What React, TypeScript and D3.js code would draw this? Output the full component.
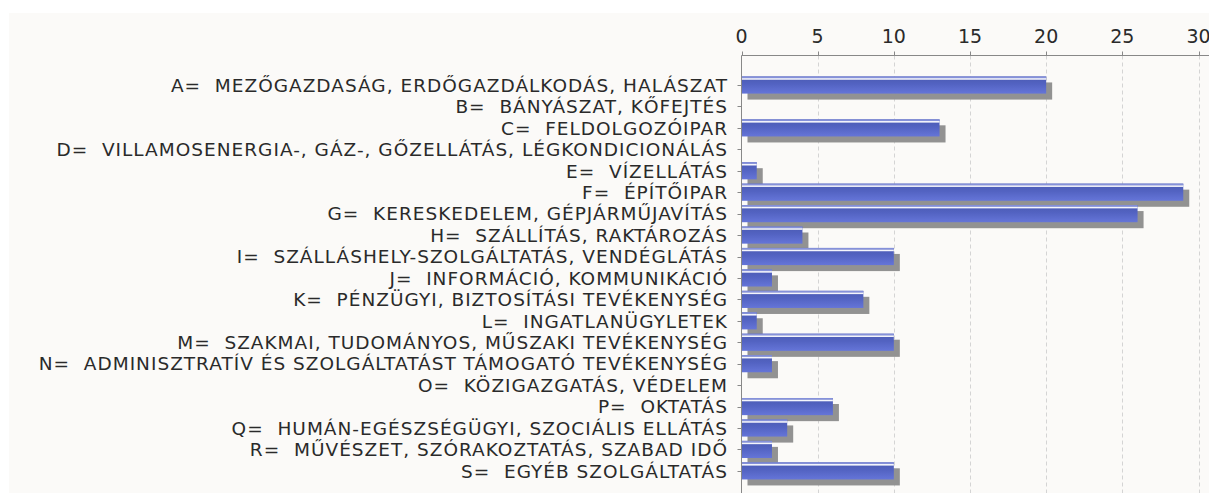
import React from 'react';
import * as d3 from 'd3';

const categories = [
  'A=  MEZŐGAZDASÁG, ERDŐGAZDÁLKODÁS, HALÁSZAT',
  'B=  BÁNYÁSZAT, KŐFEJTÉS',
  'C=  FELDOLGOZÓIPAR',
  'D=  VILLAMOSENERGIA-, GÁZ-, GŐZELLÁTÁS, LÉGKONDICIONÁLÁS',
  'E=  VÍZELLÁTÁS',
  'F=  ÉPÍTŐIPAR',
  'G=  KERESKEDELEM, GÉPJÁRMŰJAVÍTÁS',
  'H=  SZÁLLÍTÁS, RAKTÁROZÁS',
  'I=  SZÁLLÁSHELY-SZOLGÁLTATÁS, VENDÉGLÁTÁS',
  'J=  INFORMÁCIÓ, KOMMUNIKÁCIÓ',
  'K=  PÉNZÜGYI, BIZTOSÍTÁSI TEVÉKENYSÉG',
  'L=  INGATLANÜGYLETEK',
  'M=  SZAKMAI, TUDOMÁNYOS, MŰSZAKI TEVÉKENYSÉG',
  'N=  ADMINISZTRATÍV ÉS SZOLGÁLTATÁST TÁMOGATÓ TEVÉKENYSÉG',
  'O=  KÖZIGAZGATÁS, VÉDELEM',
  'P=  OKTATÁS',
  'Q=  HUMÁN-EGÉSZSÉGÜGYI, SZOCIÁLIS ELLÁTÁS',
  'R=  MŰVÉSZET, SZÓRAKOZTATÁS, SZABAD IDŐ',
  'S=  EGYÉB SZOLGÁLTATÁS',
];

const values = [20, 0, 13, 0, 1, 29, 26, 4, 10, 2, 8, 1, 10, 2, 0, 6, 3, 2, 10];

const xTicks = [0, 5, 10, 15, 20, 25, 30];

export default function App() {
  const W = 1209;
  const H = 493;
  const axisY = 55.5;
  const x = d3.scaleLinear().domain([0, 30]).range([741.5, 1198.5]);
  const y = d3
    .scaleBand<string>()
    .domain(categories)
    .range([74.3, 481.6])
    .paddingInner(0.2)
    .paddingOuter(0.1);
  const bw = y.bandwidth();
  const font = "'DejaVu Sans', sans-serif";

  return (
    <svg
      width={W}
      height={H}
      style={{ position: 'absolute', left: 0, top: 0, display: 'block' }}
    >
      <defs>
        <linearGradient id="barGrad" x1="0" y1="0" x2="0" y2="1">
          <stop offset="0" stopColor="#4a5ab2" />
          <stop offset="0.45" stopColor="#5363c2" />
          <stop offset="1" stopColor="#6575d8" />
        </linearGradient>
        <filter id="blur" x="-5%" y="-30%" width="110%" height="160%">
          <feGaussianBlur stdDeviation="0.6" />
        </filter>
      </defs>
      <rect x={0} y={0} width={W} height={H} fill="#ffffff" />
      <rect x={9} y={13} width={W - 9} height={H - 13} fill="#fbfaf8" />

      {/* gridlines */}
      {xTicks.slice(1).map((t) => (
        <line
          key={'g' + t}
          x1={Math.round(x(t)) + 0.5}
          x2={Math.round(x(t)) + 0.5}
          y1={axisY}
          y2={H}
          stroke="#d4d4d4"
          strokeDasharray="4,3"
        />
      ))}

      {/* bars */}
      {categories.map((c, i) => {
        const v = values[i];
        if (v <= 0) return null;
        const y0 = y(c)!;
        const x0 = x(0);
        const w = x(v) - x0;
        return (
          <g key={'b' + i}>
            <rect
              x={x0 + 6}
              y={y0 + 6}
              width={w}
              height={bw}
              fill="#929292"
              filter="url(#blur)"
            />
            <rect x={x0} y={y0} width={w} height={bw} fill="url(#barGrad)" />
            <rect x={x0} y={y0} width={w} height={1.7} fill="#8591da" />
            <rect x={x0} y={y0 + 1.7} width={w} height={1.6} fill="#f4f5fc" />
          </g>
        );
      })}

      {/* top axis */}
      <line x1={741.5} x2={W} y1={axisY} y2={axisY} stroke="#888888" />
      {xTicks.map((t) => (
        <g key={'t' + t}>
          <line
            x1={Math.round(x(t)) + 0.5}
            x2={Math.round(x(t)) + 0.5}
            y1={axisY - 4}
            y2={axisY}
            stroke="#888888"
          />
          <text
            x={x(t)}
            y={42.5}
            textAnchor="middle"
            fontFamily={font}
            fontSize={19}
            fill="#2a2a2a"
          >
            {t}
          </text>
        </g>
      ))}

      {/* left axis */}
      <line x1={741.5} x2={741.5} y1={axisY} y2={H} stroke="#888888" />
      {categories.map((c) => {
        const cy = y(c)! + bw / 2;
        return (
          <g key={'c' + c}>
            <line
              x1={737.5}
              x2={741.5}
              y1={Math.round(cy) + 0.5}
              y2={Math.round(cy) + 0.5}
              stroke="#888888"
            />
            <text
              x={728}
              y={cy + 6.8}
              textAnchor="end"
              fontFamily={font}
              fontSize={18.5}
              letterSpacing={1}
              fill="#2a2a2a"
              style={{ whiteSpace: 'pre' }}
            >
              {c}
            </text>
          </g>
        );
      })}
    </svg>
  );
}
